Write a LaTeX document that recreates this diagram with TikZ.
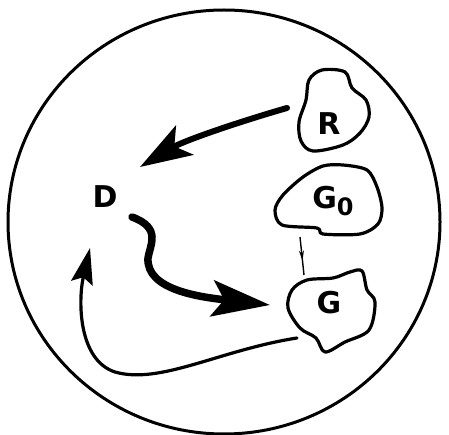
\documentclass[tikz,border=0pt]{standalone}
\usepackage{fontspec}
\setmainfont{DejaVu Sans}
\usetikzlibrary{arrows.meta,decorations.markings}
\begin{document}
\begin{tikzpicture}[x=1pt,y=-1pt,
  blob/.style={line width=3.2pt,line join=round},
  lbl/.style={font=\fontsize{30}{32}\selectfont\bfseries,inner sep=0pt},
  bigarrow/.style={line cap=round,-{Stealth[length=52pt,width=34pt,inset=12pt]}},
  midarrow/.style={line width=1.4pt,postaction={decorate},decoration={markings,mark=at position 0.62 with {\arrow{Stealth[length=10pt,width=5pt]}}}}]
\useasboundingbox (0,0) rectangle (449,435);
% outer circle
\draw[line width=3pt] (224,222) ellipse [x radius=216, y radius=212];
% blobs
\draw[blob] plot[smooth cycle,tension=0.55] coordinates {(322,70) (345,72) (352,88) (366,100) (369,117) (360,133) (343,145) (313,151) (301,141) (299,122) (306,100) (309,80)};
\draw[blob] plot[smooth cycle,tension=0.5] coordinates {(323,166) (343,165) (367,170) (377,187) (382,208) (378,224) (360,234) (323,234) (317,228) (282,225) (275,210) (283,195) (303,177)};
\draw[blob] plot[smooth cycle,tension=0.55] coordinates {(350,272) (362,271) (367,290) (375,302) (369,330) (345,342) (325,352) (316,338) (300,328) (288,308) (292,290) (307,280) (333,278)};
% labels
\node[lbl] (R) at (329,124) {R};
\node[lbl] (G0) at (333,201) {G\raisebox{-7pt}{\fontsize{24}{26}\selectfont 0}};
\node[lbl] (G) at (329,303) {G};
\node[lbl] (D) at (105,197) {D};
% named ends
\coordinate (rs) at (287,108);
\coordinate (rd) at (140,167);
\coordinate (ds) at (132,217);
\coordinate (dg) at (270,305);
\coordinate (gs) at (297,338);
\coordinate (gd) at (90,248);
\coordinate (g0s) at (300,237);
\coordinate (g0e) at (304,275);
% arrows
\draw[bigarrow,line width=6pt] (rs) .. controls (245,120) and (185,140) .. (rd);
\draw[bigarrow,line width=7.5pt,-{Stealth[length=58pt,width=36pt,inset=12pt]}] (ds) .. controls (162,228) and (150,245) .. (148,258) .. controls (146,290) and (200,297) .. (dg);
\draw[line width=3.2pt,line cap=round,-{Stealth[length=36pt,width=22pt,inset=6pt]}] (gs) .. controls (220,350) and (160,385) .. (115,372) .. controls (78,360) and (78,300) .. (gd);
\draw[midarrow] (g0s) -- (g0e);
\end{tikzpicture}
\end{document}
